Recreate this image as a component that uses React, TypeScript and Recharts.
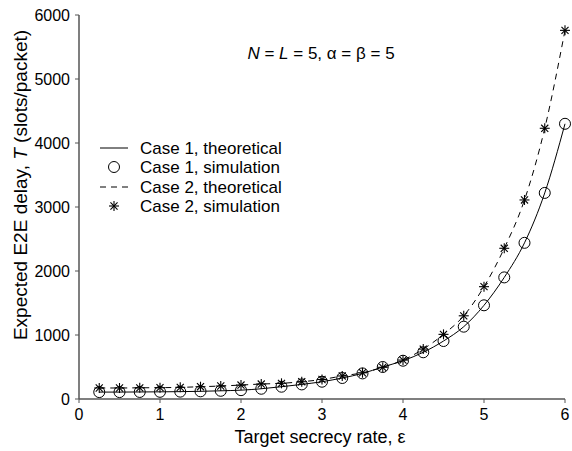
import { ComposedChart, Line, XAxis, YAxis } from 'recharts';

// target secrecy rate (x) and expected E2E delay for both cases
const epsilon = [
  0.25, 0.5, 0.75, 1, 1.25, 1.5, 1.75, 2, 2.25, 2.5, 2.75, 3,
  3.25, 3.5, 3.75, 4, 4.25, 4.5, 4.75, 5, 5.25, 5.5, 5.75, 6,
];
const case1 = [
  108, 108, 110, 112, 115, 120, 128, 138, 160, 192, 228, 270,
  328, 400, 500, 598, 730, 906, 1130, 1464, 1900, 2440, 3220, 4300,
];
const case2 = [
  172, 172, 175, 177, 182, 192, 203, 218, 234, 245, 270, 305,
  360, 410, 495, 608, 780, 1010, 1300, 1755, 2355, 3110, 4230, 5760,
];
const xTicks = [0, 1, 2, 3, 4, 5, 6];
const yTicks = [0, 1000, 2000, 3000, 4000, 5000, 6000];
const legendLabels = ['Case 1, theoretical', 'Case 1, simulation', 'Case 2, theoretical', 'Case 2, simulation'];

const data = epsilon.map((x, i) => ({ x, c1: case1[i], c2: case2[i] }));

const FONT = '"Liberation Sans", Arial, sans-serif';
const AXIS = '#555';
const W = 572;
const H = 451;

const CircleDot = (props: any) => {
  const { cx, cy, index } = props;
  if (cx == null || cy == null) return <g key={`c-${index}`} />;
  return <circle key={`c-${index}`} cx={cx} cy={cy} r={5.5} fill="none" stroke="#000" strokeWidth={1} />;
};

const Asterisk = ({ cx, cy, r = 5 }: { cx: number; cy: number; r?: number }) => {
  const d = r * 0.707;
  return (
    <g stroke="#000" strokeWidth={1.1}>
      <line x1={cx - r} y1={cy} x2={cx + r} y2={cy} />
      <line x1={cx} y1={cy - r} x2={cx} y2={cy + r} />
      <line x1={cx - d} y1={cy - d} x2={cx + d} y2={cy + d} />
      <line x1={cx - d} y1={cy + d} x2={cx + d} y2={cy - d} />
    </g>
  );
};

const StarDot = (props: any) => {
  const { cx, cy, index } = props;
  if (cx == null || cy == null) return <g key={`s-${index}`} />;
  return (
    <g key={`s-${index}`}>
      <Asterisk cx={cx} cy={cy} />
    </g>
  );
};

export default function App() {
  const legendY = [148, 167, 187, 206];
  // fixed so the page never gets a scrollbar
  return (
    <div style={{ position: 'fixed', left: 0, top: 0, width: W, height: H, fontFamily: FONT, background: '#fff' }}>
      <ComposedChart
        width={W}
        height={H}
        data={data}
        margin={{ top: 15, right: 7, left: 0, bottom: 0 }}
      >
        <XAxis
          type="number"
          dataKey="x"
          domain={[0, 6]}
          ticks={xTicks}
          height={52}
          tick={{ fill: '#000', fontSize: 16, fontFamily: FONT }}
          axisLine={{ stroke: AXIS, strokeWidth: 1.5 }}
          tickLine={{ stroke: AXIS }}
          tickSize={4}
          tickMargin={6}
        />
        <YAxis
          type="number"
          domain={[0, 6000]}
          ticks={yTicks}
          width={79}
          tick={{ fill: '#000', fontSize: 16, fontFamily: FONT }}
          axisLine={{ stroke: AXIS, strokeWidth: 1.5 }}
          tickLine={{ stroke: AXIS }}
          tickSize={4}
          tickMargin={5}
        />
        <Line
          dataKey="c1"
          type="monotone"
          stroke="#000"
          strokeWidth={1}
          dot={false}
          isAnimationActive={false}
        />
        <Line
          dataKey="c2"
          type="monotone"
          stroke="#000"
          strokeWidth={1}
          strokeDasharray="6 5"
          dot={false}
          isAnimationActive={false}
        />
        <Line dataKey="c1" stroke="none" dot={CircleDot} isAnimationActive={false} />
        <Line dataKey="c2" stroke="none" dot={StarDot} isAnimationActive={false} />
      </ComposedChart>

      <svg
        width={W}
        height={H}
        style={{ position: 'absolute', left: 0, top: 0, pointerEvents: 'none' }}
        fontFamily={FONT}
        fontSize={17}
      >
        <text x={321} y={53} textAnchor="middle" dominantBaseline="central">
          <tspan fontStyle="italic">N</tspan> = <tspan fontStyle="italic">L</tspan> = 5, α = β = 5
        </text>

        <line x1={100} y1={legendY[0]} x2={128} y2={legendY[0]} stroke="#000" />
        <circle cx={114} cy={legendY[1]} r={5.5} fill="none" stroke="#000" />
        <line x1={100} y1={legendY[2]} x2={128} y2={legendY[2]} stroke="#000" strokeDasharray="6 5" />
        <Asterisk cx={114} cy={legendY[3]} />
        {legendLabels.map((t, i) => (
          <text key={t} x={140} y={legendY[i]} dominantBaseline="central">
            {t}
          </text>
        ))}

        <text x={320} y={437} textAnchor="middle" dominantBaseline="central" fontSize={18}>
          Target secrecy rate, ε
        </text>
        <text
          x={20}
          y={185}
          textAnchor="middle"
          dominantBaseline="central"
          fontSize={19}
          transform="rotate(-90 20 185)"
        >
          Expected E2E delay, <tspan fontStyle="italic">T</tspan> (slots/packet)
        </text>
      </svg>
    </div>
  );
}
